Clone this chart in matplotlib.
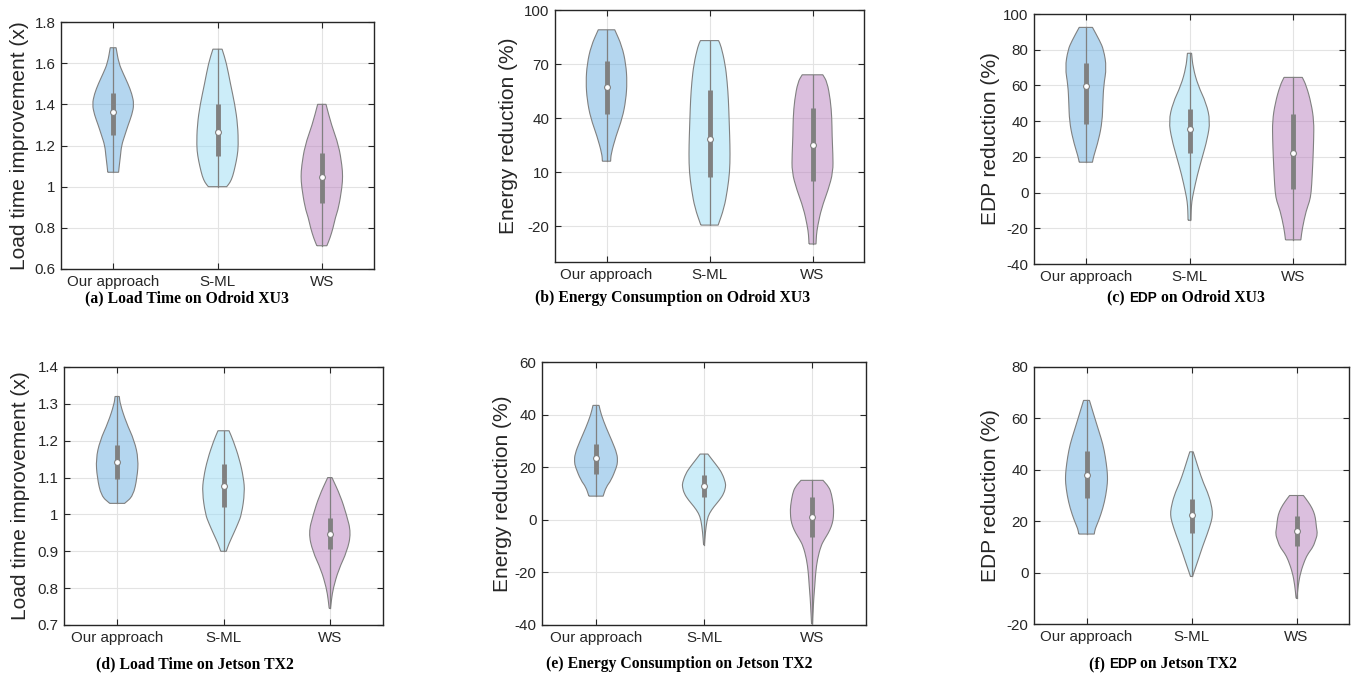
import numpy as np
import matplotlib
matplotlib.use("Agg")
import matplotlib.pyplot as plt
from matplotlib.path import Path
from matplotlib.patches import PathPatch

categories = ["Our approach", "S-ML", "WS"]

# ---------- (a) Load time, Odroid XU3 ----------
a_ours_y = [1.07, 1.10, 1.15, 1.20, 1.25, 1.30, 1.35, 1.40, 1.45, 1.50, 1.55, 1.60, 1.675]
a_ours_w = [0.26, 0.29, 0.35, 0.40, 0.56, 0.72, 0.90, 1.00, 0.90, 0.71, 0.48, 0.27, 0.14]
a_sml_y = [1.00, 1.02, 1.05, 1.10, 1.15, 1.20, 1.30, 1.40, 1.50, 1.60, 1.668]
a_sml_w = [0.44, 0.60, 0.73, 0.85, 0.95, 1.00, 0.97, 0.83, 0.62, 0.43, 0.22]
a_ws_y = [0.713, 0.75, 0.80, 0.85, 0.90, 1.00, 1.05, 1.10, 1.20, 1.30, 1.40]
a_ws_w = [0.24, 0.39, 0.54, 0.65, 0.81, 0.97, 1.00, 0.97, 0.81, 0.46, 0.20]
a_med = [1.365, 1.265, 1.045]
a_q1 = [1.25, 1.15, 0.92]
a_q3 = [1.455, 1.40, 1.165]
a_lo = [1.07, 1.00, 0.713]
a_hi = [1.675, 1.668, 1.40]

# ---------- (b) Energy, Odroid XU3 ----------
b_ours_y = [16, 20, 30, 40, 50, 60, 70, 80, 89]
b_ours_w = [0.20, 0.22, 0.46, 0.77, 0.94, 1.00, 0.94, 0.75, 0.40]
b_sml_y = [-19.5, -10, 0, 10, 20, 30, 40, 50, 60, 70, 80, 83]
b_sml_w = [0.42, 0.71, 0.87, 0.98, 1.00, 0.98, 0.95, 0.92, 0.86, 0.76, 0.56, 0.44]
b_ws_y = [-30, -25, -20, -10, 0, 10, 20, 30, 40, 50, 60, 64]
b_ws_w = [0.17, 0.19, 0.25, 0.44, 0.76, 1.00, 0.99, 0.95, 0.94, 0.87, 0.71, 0.50]
b_med = [57, 28.5, 25]
b_q1 = [42, 7.5, 5]
b_q3 = [71.5, 55.5, 45.5]
b_lo = [16, -19.5, -30]
b_hi = [89, 83, 64]

# ---------- (c) EDP, Odroid XU3 ----------
c_ours_y = [17, 20, 30, 40, 50, 60, 70, 80, 85, 92.5]
c_ours_w = [0.32, 0.37, 0.63, 0.79, 0.82, 0.86, 1.00, 0.86, 0.67, 0.32]
c_sml_y = [-15.5, -10, -5, 0, 10, 20, 30, 40, 50, 60, 70, 78]
c_sml_w = [0.07, 0.08, 0.11, 0.19, 0.38, 0.62, 0.86, 1.00, 0.81, 0.41, 0.17, 0.10]
c_ws_y = [-26.5, -20, -10, -5, 0, 10, 20, 30, 40, 50, 60, 64.5]
c_ws_w = [0.37, 0.44, 0.63, 0.79, 0.87, 0.92, 0.96, 0.99, 1.00, 0.87, 0.63, 0.44]
c_med = [59.5, 35.5, 22]
c_q1 = [38.5, 22, 2]
c_q3 = [72.5, 47, 44]
c_lo = [17, -15.5, -26.5]
c_hi = [92.5, 78, 64.5]

# ---------- (d) Load time, Jetson TX2 ----------
d_ours_y = [1.03, 1.05, 1.10, 1.15, 1.20, 1.25, 1.30, 1.32]
d_ours_w = [0.35, 0.75, 0.94, 1.00, 0.81, 0.42, 0.14, 0.10]
d_sml_y = [0.90, 0.92, 0.95, 0.975, 1.00, 1.06, 1.10, 1.15, 1.20, 1.227]
d_sml_w = [0.13, 0.25, 0.49, 0.68, 0.85, 1.00, 0.94, 0.75, 0.46, 0.26]
d_ws_y = [0.745, 0.77, 0.80, 0.85, 0.90, 0.95, 1.00, 1.05, 1.10]
d_ws_w = [0.03, 0.08, 0.16, 0.41, 0.81, 1.00, 0.78, 0.50, 0.10]
d_med = [1.142, 1.078, 0.947]
d_q1 = [1.095, 1.02, 0.905]
d_q3 = [1.188, 1.138, 0.99]
d_lo = [1.03, 0.90, 0.745]
d_hi = [1.32, 1.227, 1.10]

# ---------- (e) Energy, Jetson TX2 ----------
e_ours_y = [9, 12.5, 15, 20, 22, 25, 30, 35, 40, 43.5]
e_ours_w = [0.33, 0.47, 0.70, 0.95, 1.00, 0.98, 0.74, 0.47, 0.24, 0.14]
e_sml_y = [-9.5, -5, 0, 2.5, 5, 7.5, 10, 12.5, 14, 17.5, 20, 22.5, 25]
e_sml_w = [0.02, 0.06, 0.14, 0.25, 0.46, 0.72, 0.92, 1.00, 1.00, 0.85, 0.65, 0.41, 0.18]
e_ws_y = [-39.5, -35, -30, -25, -20, -15, -10, -7.5, -5, -2.5, 0, 2.5, 5, 10, 12.5, 15]
e_ws_w = [0.02, 0.05, 0.08, 0.13, 0.17, 0.25, 0.41, 0.57, 0.76, 0.90, 0.98, 1.00, 1.00, 0.90, 0.78, 0.51]
e_med = [23.5, 13, 1]
e_q1 = [17.5, 8.5, -6.5]
e_q3 = [29, 17, 8.5]
e_lo = [9, -9.5, -39.5]
e_hi = [43.5, 25, 15]

# ---------- (f) EDP, Jetson TX2 ----------
f_ours_y = [15, 17, 20, 25, 30, 35, 37.5, 40, 45, 50, 55, 60, 67]
f_ours_w = [0.37, 0.41, 0.57, 0.78, 0.92, 1.00, 1.00, 0.98, 0.90, 0.78, 0.59, 0.40, 0.14]
f_sml_y = [-1.5, 0, 5, 10, 15, 20, 22.5, 25, 30, 35, 40, 45, 47]
f_sml_w = [0.05, 0.11, 0.32, 0.52, 0.75, 0.95, 1.00, 0.98, 0.83, 0.56, 0.35, 0.16, 0.08]
f_ws_y = [-10, -5, 0, 5, 7.5, 10, 12.5, 15, 17.5, 20, 22.5, 25, 27.5, 30]
f_ws_w = [0.02, 0.08, 0.19, 0.40, 0.56, 0.79, 0.90, 1.00, 0.95, 0.92, 0.87, 0.75, 0.56, 0.33]
f_med = [38, 22.5, 16]
f_q1 = [29, 15.5, 10.5]
f_q3 = [47.5, 28.5, 22]
f_lo = [15, -1.5, -10]
f_hi = [67, 47, 30]

panels = [
    dict(prof=[(a_ours_y, a_ours_w), (a_sml_y, a_sml_w), (a_ws_y, a_ws_w)],
         stats=(a_med, a_q1, a_q3, a_lo, a_hi), ylim=(0.6, 1.8),
         yticks=[0.6, 0.8, 1.0, 1.2, 1.4, 1.6, 1.8],
         yticklabels=["0.6", "0.8", "1", "1.2", "1.4", "1.6", "1.8"],
         ylabel="Load time improvement (x)",
         rect=(61, 22, 374, 269), ylx=20,
         cap=[("(a) Load Time on Odroid XU3", "serif")], capx=187, capy=297),
    dict(prof=[(b_ours_y, b_ours_w), (b_sml_y, b_sml_w), (b_ws_y, b_ws_w)],
         stats=(b_med, b_q1, b_q3, b_lo, b_hi), ylim=(-40, 100),
         yticks=[-20, 10, 40, 70, 100],
         yticklabels=["-20", "10", "40", "70", "100"],
         ylabel="Energy reduction (%)",
         rect=(555, 10, 864, 262), ylx=508,
         cap=[("(b) Energy Consumption on Odroid XU3", "serif")], capx=673, capy=297),
    dict(prof=[(c_ours_y, c_ours_w), (c_sml_y, c_sml_w), (c_ws_y, c_ws_w)],
         stats=(c_med, c_q1, c_q3, c_lo, c_hi), ylim=(-40, 100),
         yticks=[-40, -20, 0, 20, 40, 60, 80, 100],
         yticklabels=["-40", "-20", "0", "20", "40", "60", "80", "100"],
         ylabel="EDP reduction (%)",
         rect=(1034, 14, 1345, 264), ylx=990,
         cap=[("(c) ", "serif"), ("EDP", "sans"), (" on Odroid XU3", "serif")], capx=1186, capy=297),
    dict(prof=[(d_ours_y, d_ours_w), (d_sml_y, d_sml_w), (d_ws_y, d_ws_w)],
         stats=(d_med, d_q1, d_q3, d_lo, d_hi), ylim=(0.7, 1.4),
         yticks=[0.7, 0.8, 0.9, 1.0, 1.1, 1.2, 1.3, 1.4],
         yticklabels=["0.7", "0.8", "0.9", "1", "1.1", "1.2", "1.3", "1.4"],
         ylabel="Load time improvement (x)",
         rect=(64, 367, 383, 625), ylx=21,
         cap=[("(d) Load Time on Jetson TX2", "serif")], capx=195, capy=663),
    dict(prof=[(e_ours_y, e_ours_w), (e_sml_y, e_sml_w), (e_ws_y, e_ws_w)],
         stats=(e_med, e_q1, e_q3, e_lo, e_hi), ylim=(-40, 60),
         yticks=[-40, -20, 0, 20, 40, 60],
         yticklabels=["-40", "-20", "0", "20", "40", "60"],
         ylabel="Energy reduction (%)",
         rect=(542, 362, 866, 625), ylx=503,
         cap=[("(e) Energy Consumption on Jetson TX2", "serif")], capx=679, capy=663),
    dict(prof=[(f_ours_y, f_ours_w), (f_sml_y, f_sml_w), (f_ws_y, f_ws_w)],
         stats=(f_med, f_q1, f_q3, f_lo, f_hi), ylim=(-20, 80),
         yticks=[-20, 0, 20, 40, 60, 80],
         yticklabels=["-20", "0", "20", "40", "60", "80"],
         ylabel="EDP reduction (%)",
         rect=(1034, 367, 1349, 624), ylx=990,
         cap=[("(f) ", "serif"), ("EDP", "sans"), (" on Jetson TX2", "serif")], capx=1163, capy=663),
]

fill_colors = ["#6aaee0", "#9bddf5", "#b981bf"]
edge = "#808080"
axcol = "#262626"
W, H = 1353, 682
HALF = 0.2


def smooth_side(pts):
    """Quadratic-Bezier path pieces through a side's outline (read points as controls)."""
    verts, codes = [], []
    n = len(pts)
    for k in range(1, n - 1):
        mid = ((pts[k][0] + pts[k + 1][0]) / 2, (pts[k][1] + pts[k + 1][1]) / 2)
        verts += [pts[k], mid]
        codes += [Path.CURVE3, Path.CURVE3]
    verts.append(pts[-1])
    codes.append(Path.LINETO)
    return verts, codes


def violin_path(x0, ys, ws):
    left = [(x0 - w, y) for y, w in zip(ys, ws)]
    right = [(x0 + w, y) for y, w in zip(ys, ws)][::-1]
    verts = [left[0]]
    codes = [Path.MOVETO]
    mid0 = ((left[0][0] + left[1][0]) / 2, (left[0][1] + left[1][1]) / 2)
    verts.append(mid0); codes.append(Path.LINETO)
    v, c = smooth_side(left); verts += v; codes += c
    verts.append(right[0]); codes.append(Path.LINETO)
    mid1 = ((right[0][0] + right[1][0]) / 2, (right[0][1] + right[1][1]) / 2)
    verts.append(mid1); codes.append(Path.LINETO)
    v, c = smooth_side(right); verts += v; codes += c
    verts.append(left[0]); codes.append(Path.LINETO)
    return Path(verts, codes)


fig = plt.figure(figsize=(W / 100, H / 100), dpi=100)
plt.rcParams["font.family"] = ["Liberation Sans", "DejaVu Sans"]

for p in panels:
    l, t, r, b = p["rect"]
    ax = fig.add_axes([l / W, (H - b) / H, (r - l) / W, (b - t) / H])
    ax.set_xlim(0.5, 3.5)
    ax.set_ylim(*p["ylim"])
    ax.set_axisbelow(True)
    ax.grid(True, color="#e3e3e3", linewidth=0.8)
    med, q1, q3, lo, hi = p["stats"]
    for i, (ys, ws) in enumerate(p["prof"]):
        x0 = i + 1
        ys = np.asarray(ys, float)
        ws = np.asarray(ws, float) * HALF
        path = violin_path(x0, ys, ws)
        ax.add_patch(PathPatch(path, facecolor=fill_colors[i], alpha=0.5,
                               edgecolor="none", zorder=2))
        ax.add_patch(PathPatch(path, facecolor="none", edgecolor=edge, lw=0.8, zorder=3))
        ax.plot([x0, x0], [lo[i], hi[i]], color=edge, lw=0.9, zorder=4)
        ax.plot([x0, x0], [q1[i], q3[i]], color=edge, lw=3.5, solid_capstyle="butt", zorder=5)
        ax.plot([x0], [med[i]], marker="o", ms=4.2, mfc="white", mec=edge, mew=0.8, zorder=6)
    ax.set_xticks([1, 2, 3])
    ax.set_xticklabels(categories)
    ax.set_yticks(p["yticks"])
    ax.set_yticklabels(p["yticklabels"])
    ax.tick_params(direction="in", length=4, width=0.8, colors=axcol, labelsize=10.9,
                   top=True, right=True, pad=4)
    for s in ax.spines.values():
        s.set_color(axcol)
        s.set_linewidth(1.0)
    fig.text(p["ylx"] / W, 1 - ((t + b) / 2) / H, p["ylabel"], rotation=90,
             ha="center", va="center", fontsize=15, color=axcol)

# captions (mixed serif / sans pieces)
fig.canvas.draw()
renderer = fig.canvas.get_renderer()
for p in panels:
    pieces = []
    for txt, kind in p["cap"]:
        fam = ["Liberation Serif", "DejaVu Serif"] if kind == "serif" else ["Liberation Sans", "DejaVu Sans"]
        fs = 11.3 if kind == "serif" else 9.8
        tobj = fig.text(0, 0, txt, family=fam, fontweight="bold", fontsize=fs,
                        ha="left", va="baseline", color="black")
        pieces.append(tobj)
    widths = [tp.get_window_extent(renderer).width for tp in pieces]
    total = sum(widths)
    x = p["capx"] - total / 2
    for tp, w in zip(pieces, widths):
        tp.set_position((x / W, 1 - (p["capy"] + 5) / H))
        x += w

fig.savefig("out.png", dpi=100)
